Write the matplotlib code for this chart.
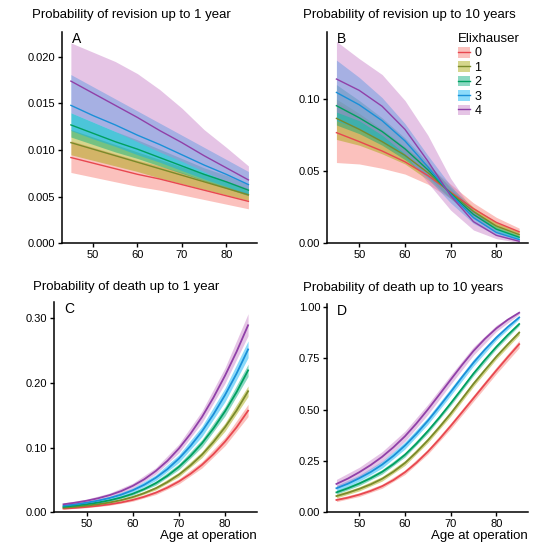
import matplotlib
matplotlib.use('Agg')
from matplotlib import pyplot as plt
from matplotlib.patches import Patch
from matplotlib.lines import Line2D
from matplotlib.ticker import FormatStrFormatter

plt.rcParams['font.family'] = ['Liberation Sans', 'DejaVu Sans']

ages = [45, 50, 55, 60, 65, 70, 75, 80, 85]
ages_fine = [45, 47.5, 50, 52.5, 55, 57.5, 60, 62.5, 65, 67.5, 70, 72.5, 75, 77.5, 80, 82.5, 85]
groups = ['0', '1', '2', '3', '4']
line_cols = ['#E8474F', '#7A8A2A', '#00A060', '#1A90D8', '#9040A8']
fill_cols = ['#F8766D', '#A3A500', '#00AA78', '#00B0F6', '#C77CC7']

# A: revision up to 1 year
rev1_mid = [[.0092, .0086, .0080, .0074, .0069, .0063, .0057, .0051, .0045],
            [.0108, .0101, .0094, .0087, .0080, .0073, .0066, .0059, .0052],
            [.0127, .0118, .0109, .0101, .0092, .0083, .0074, .0066, .0057],
            [.0148, .0137, .0127, .0116, .0106, .0095, .0084, .0074, .0063],
            [.0174, .0161, .0148, .0135, .0121, .0108, .0094, .0081, .0068]]
rev1_lo = [[.0076, .0071, .0066, .0061, .0057, .0052, .0047, .0042, .0037],
           [.0095, .0089, .0083, .0077, .0070, .0064, .0058, .0052, .0046],
           [.0114, .0106, .0098, .0091, .0083, .0075, .0067, .0059, .0051],
           [.0121, .0112, .0104, .0095, .0087, .0078, .0069, .0061, .0052],
           [.0140, .0130, .0120, .0109, .0098, .0088, .0077, .0066, .0056]]
rev1_hi = [[.0110, .0103, .0096, .0089, .0083, .0076, .0068, .0061, .0054],
           [.0122, .0114, .0106, .0098, .0090, .0082, .0075, .0067, .0059],
           [.0140, .0130, .0120, .0111, .0101, .0091, .0081, .0073, .0063],
           [.0181, .0168, .0155, .0142, .0129, .0116, .0103, .0090, .0077],
           [.0215, .0205, .0195, .0182, .0165, .0145, .0122, .0103, .0083]]

# B: revision up to 10 years
rev10_mid = [[.0767, .0705, .0640, .0565, .0470, .0355, .0240, .0145, .0080],
             [.0866, .0790, .0705, .0610, .0490, .0350, .0220, .0120, .0060],
             [.0954, .0870, .0775, .0655, .0510, .0345, .0200, .0098, .0042],
             [.1046, .0960, .0850, .0710, .0530, .0340, .0178, .0075, .0026],
             [.1139, .1060, .0950, .0790, .0570, .0330, .0150, .0055, .0014]]
rev10_lo = [[.056, .055, .052, .048, .041, .031, .020, .0115, .0060],
            [.072, .068, .062, .055, .044, .031, .019, .0098, .0045],
            [.082, .076, .068, .058, .046, .031, .017, .0080, .0030],
            [.085, .079, .070, .060, .045, .028, .0138, .0055, .0016],
            [.091, .085, .075, .062, .042, .023, .0092, .0032, .0006]]
rev10_hi = [[.098, .088, .078, .066, .054, .041, .028, .018, .0105],
            [.100, .090, .079, .067, .054, .039, .025, .0145, .0078],
            [.110, .099, .087, .073, .056, .038, .023, .0118, .0056],
            [.127, .115, .101, .083, .061, .040, .022, .0098, .0040],
            [.140, .128, .117, .099, .075, .045, .022, .0088, .0028]]

# C: death up to 1 year (lines on ages_fine, bands on ages)
dth1_mid = [[.00572, .00683, .00828, .01006, .01237, .01529, .01916, .02407, .03031,
             .03805, .04771, .05942, .07331, .08995, .10923, .13134, .15708],
            [.00706, .00843, .01021, .0124, .01523, .01883, .02356, .02958, .0372,
             .04661, .0583, .07241, .08906, .10885, .13161, .15744, .18719],
            [.0086, .01027, .01244, .0151, .01854, .0229, .02862, .03588, .04504,
             .05632, .07027, .08701, .10663, .12977, .15613, .18576, .21945],
            [.01028, .01227, .01486, .01801, .0221, .02728, .03406, .04263, .05343,
             .06667, .08296, .1024, .125, .1515, .1813, .2145, .2518],
            [.0124, .01482, .01786, .0217, .02658, .03282, .04086, .05108, .06385,
             .07949, .09857, .12124, .14731, .17751, .21124, .24821, .28916]]
dth1_lo = [[.0048, .0071, .0108, .0171, .0275, .0440, .0685, .1030, .1480],
           [.0062, .0091, .0138, .0216, .0346, .0548, .0845, .1255, .1790],
           [.0076, .0112, .0168, .0264, .0420, .0660, .1010, .1490, .2100],
           [.0089, .0131, .0197, .0308, .0490, .0770, .1170, .1710, .2390],
           [.0105, .0156, .0236, .0370, .0590, .0920, .1385, .1995, .2730]]
dth1_hi = [[.0067, .0095, .0140, .0214, .0333, .0517, .0785, .1160, .1670],
           [.0080, .0114, .0167, .0256, .0399, .0620, .0938, .1380, .1955],
           [.0097, .0138, .0204, .0310, .0482, .0748, .1125, .1635, .2290],
           [.0118, .0168, .0247, .0375, .0580, .0890, .1330, .1920, .2650],
           [.0145, .0204, .0298, .0450, .0690, .1055, .1565, .2235, .3070]]

# D: death up to 10 years (lines on ages_fine, bands on ages)
dth10_mid = [[.060, .071, .086, .104, .127, .157, .195, .241, .295,
              .355, .420, .487, .555, .623, .690, .755, .818],
             [.079, .095, .114, .136, .163, .198, .240, .292, .350,
              .413, .480, .552, .625, .692, .757, .817, .874],
             [.097, .117, .140, .166, .197, .235, .280, .334, .395,
              .460, .530, .602, .675, .742, .805, .863, .916],
             [.117, .139, .166, .196, .232, .275, .325, .382, .445,
              .514, .585, .658, .728, .792, .850, .902, .948],
             [.138, .164, .195, .230, .270, .317, .370, .432, .500,
              .572, .645, .717, .785, .844, .895, .937, .971]]
dth10_lo = [[.052, .077, .117, .184, .283, .406, .540, .674, .800],
            [.070, .104, .152, .228, .338, .467, .612, .745, .862],
            [.088, .130, .186, .269, .384, .519, .664, .795, .908],
            [.103, .151, .215, .308, .428, .568, .712, .838, .940],
            [.116, .171, .245, .345, .475, .622, .765, .880, .963]]
dth10_hi = [[.068, .095, .137, .206, .307, .434, .570, .706, .836],
            [.088, .124, .174, .252, .362, .493, .638, .769, .886],
            [.106, .150, .208, .291, .406, .541, .686, .815, .924],
            [.131, .181, .249, .342, .462, .602, .744, .862, .956],
            [.160, .219, .295, .395, .525, .668, .805, .910, .979]]

titles = ['Probability of revision up to 1 year', 'Probability of revision up to 10 years',
          'Probability of death up to 1 year', 'Probability of death up to 10 years']
letters = ['A', 'B', 'C', 'D']
yticks = [[0, .005, .010, .015, .020], [0, .05, .10], [0, .10, .20, .30], [0, .25, .50, .75, 1.0]]
yfmt = ['%.3f', '%.2f', '%.2f', '%.2f']
ytop = [.0227, .1467, .3247, 1.012]

W, H = 555, 550
fig = plt.figure(figsize=(W / 100, H / 100), dpi=100)


def px_axes(l, t, r, b):
    return fig.add_axes([l / W, 1 - b / H, (r - l) / W, (b - t) / H])


axs = [px_axes(62, 31.7, 257.3, 243.3), px_axes(327.3, 31.7, 528.3, 243.3),
       px_axes(54.3, 302.3, 257.3, 512.3), px_axes(327.3, 304.3, 528.3, 512.3)]
data = [(rev1_mid, rev1_lo, rev1_hi), (rev10_mid, rev10_lo, rev10_hi),
        (dth1_mid, dth1_lo, dth1_hi), (dth10_mid, dth10_lo, dth10_hi)]
line_x = [ages, ages, ages_fine, ages_fine]
line_w = [1.0, 1.0, 1.3, 1.3]
title_pos = [(31.7, 15), (303, 15), (33, 287), (303.3, 288)]

for i, ax in enumerate(axs):
    mid, lo, hi = data[i]
    for g in range(5):
        ax.fill_between(ages, lo[g], hi[g], color=fill_cols[g], alpha=0.45, lw=0)
    for g in range(5):
        ax.plot(line_x[i], mid[g], color=line_cols[g], lw=line_w[i])
    ax.set_xlim(43, 87)
    ax.set_ylim(0, ytop[i])
    ax.set_xticks([50, 60, 70, 80])
    ax.set_yticks(yticks[i])
    ax.yaxis.set_major_formatter(FormatStrFormatter(yfmt[i]))
    for s in ['top', 'right']:
        ax.spines[s].set_visible(False)
    for s in ['left', 'bottom']:
        ax.spines[s].set_linewidth(1.1)
    ax.tick_params(length=3, width=1.0, labelsize=8, pad=2, colors='black')
    ax.text(45.2, ytop[i], letters[i], fontsize=10, va='top', ha='left')
    tx, ty = title_pos[i]
    fig.text(tx / W, 1 - ty / H, titles[i], fontsize=9.5, ha='left', va='center')

fig.text(256.7 / W, 1 - 536.5 / H, 'Age at operation', fontsize=9.5, ha='right', va='center')
fig.text(527.3 / W, 1 - 535.5 / H, 'Age at operation', fontsize=9.5, ha='right', va='center')

handles = [(Patch(facecolor=fill_cols[g], alpha=0.45, lw=0),
            Line2D([], [], color=line_cols[g], lw=1.0)) for g in range(5)]
leg = axs[1].legend(handles, groups, title='Elixhauser', loc='upper left',
                    bbox_to_anchor=(0.605, 1.035), frameon=False, fontsize=9,
                    title_fontsize=9.5, handlelength=0.95, handleheight=0.95,
                    labelspacing=0.14, handletextpad=0.4, borderpad=0.2)
leg._legend_box.align = 'left'

fig.savefig('out.png', dpi=100)
